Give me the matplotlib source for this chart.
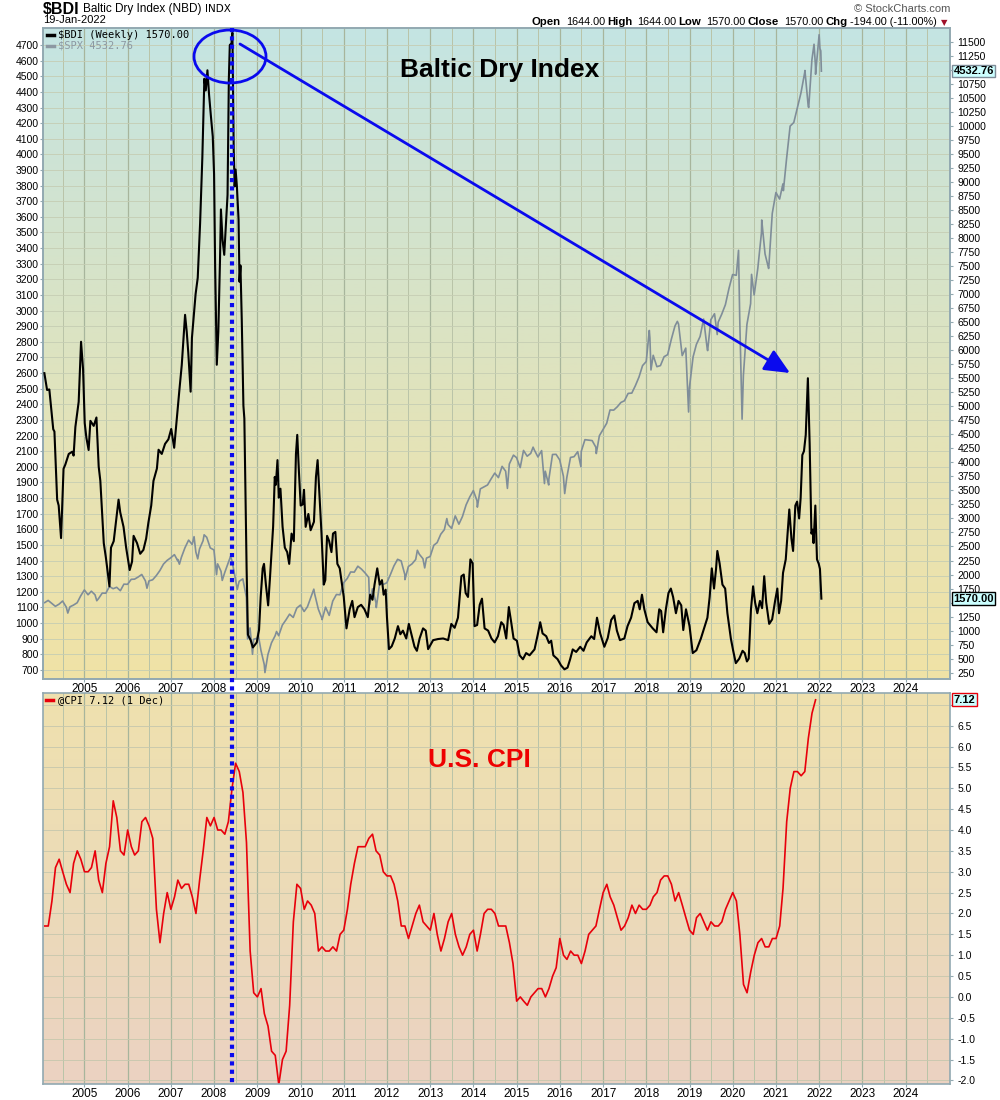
import numpy as np
import pandas as pd
import matplotlib
matplotlib.use('Agg')
import matplotlib.pyplot as plt
import matplotlib.dates as mdates
import matplotlib.ticker as mticker
from matplotlib.colors import LinearSegmentedColormap
from matplotlib.patches import Ellipse, FancyArrowPatch
from matplotlib.lines import Line2D

plt.rcParams['font.family'] = ['Liberation Sans', 'DejaVu Sans']

# ---- Baltic Dry Index, weekly ----
bdi_dates = [
    '2004-01-28', '2004-02-20', '2004-03-10', '2004-04-12', '2004-04-22', '2004-05-15', '2004-05-28',
    '2004-06-17', '2004-07-08', '2004-07-23', '2004-08-21', '2004-09-20', '2004-10-01', '2004-10-16',
    '2004-11-13', '2004-12-03', '2004-12-20', '2005-01-03', '2005-01-17', '2005-02-05', '2005-02-20',
    '2005-03-20', '2005-04-12', '2005-05-01', '2005-05-15', '2005-06-13', '2005-07-01', '2005-07-31',
    '2005-08-13', '2005-09-05', '2005-09-27', '2005-10-16', '2005-10-30', '2005-11-27', '2005-12-19',
    '2006-01-18', '2006-02-07', '2006-02-20', '2006-03-21', '2006-04-17', '2006-05-14', '2006-06-06',
    '2006-06-25', '2006-07-19', '2006-08-07', '2006-09-05', '2006-09-19', '2006-10-16', '2006-11-13',
    '2006-12-11', '2007-01-04', '2007-01-29', '2007-02-20', '2007-03-14', '2007-04-03', '2007-05-01',
    '2007-05-15', '2007-05-28', '2007-06-17', '2007-06-28', '2007-07-15', '2007-07-29', '2007-08-16',
    '2007-09-05', '2007-09-24', '2007-10-11', '2007-10-23', '2007-11-06', '2007-11-20', '2007-12-05',
    '2007-12-21', '2008-01-01', '2008-01-10', '2008-01-24', '2008-02-06', '2008-02-20', '2008-02-28',
    '2008-03-13', '2008-03-27', '2008-04-07', '2008-04-24', '2008-05-05', '2008-05-13', '2008-05-27',
    '2008-06-04', '2008-06-15', '2008-06-23', '2008-07-01', '2008-07-12', '2008-07-26', '2008-08-03',
    '2008-08-11', '2008-08-22', '2008-09-05', '2008-09-13', '2008-09-21', '2008-10-02', '2008-10-13',
    '2008-11-06', '2008-11-24', '2008-12-27', '2009-01-15', '2009-01-29', '2009-02-15', '2009-02-26',
    '2009-03-14', '2009-04-02', '2009-04-16', '2009-04-30', '2009-05-14', '2009-05-28', '2009-06-06',
    '2009-06-20', '2009-07-01', '2009-07-15', '2009-08-02', '2009-08-21', '2009-09-10', '2009-09-27',
    '2009-10-17', '2009-11-05', '2009-11-23', '2009-12-04', '2009-12-18', '2010-01-02', '2010-01-19',
    '2010-01-30', '2010-02-13', '2010-03-08', '2010-03-27', '2010-04-24', '2010-05-11', '2010-05-25',
    '2010-06-07', '2010-06-27', '2010-07-16', '2010-07-29', '2010-08-13', '2010-08-30', '2010-09-19',
    '2010-10-02', '2010-10-22', '2010-11-08', '2010-11-28', '2010-12-12', '2011-01-01', '2011-01-24',
    '2011-02-20', '2011-03-14', '2011-04-02', '2011-04-30', '2011-05-28', '2011-06-25', '2011-07-23',
    '2011-08-12', '2011-09-01', '2011-09-18', '2011-10-11', '2011-11-01', '2011-11-20', '2011-12-04',
    '2011-12-21', '2012-01-01', '2012-01-18', '2012-02-10', '2012-03-07', '2012-04-03', '2012-04-23',
    '2012-05-15', '2012-06-12', '2012-07-04', '2012-07-24', '2012-08-21', '2012-09-10', '2012-10-03',
    '2012-11-01', '2012-11-24', '2012-12-14', '2013-01-25', '2013-03-08', '2013-04-20', '2013-06-01',
    '2013-06-28', '2013-07-26', '2013-08-23', '2013-09-21', '2013-10-11', '2013-10-27', '2013-11-16',
    '2013-12-06', '2013-12-25', '2014-01-10', '2014-02-01', '2014-02-23', '2014-03-14', '2014-04-05',
    '2014-05-05', '2014-06-02', '2014-06-29', '2014-07-27', '2014-08-24', '2014-09-13', '2014-10-05',
    '2014-10-27', '2014-11-16', '2014-12-06', '2015-01-03', '2015-01-26', '2015-02-23', '2015-03-22',
    '2015-04-20', '2015-06-01', '2015-06-29', '2015-07-19', '2015-08-08', '2015-09-08', '2015-10-01',
    '2015-10-20', '2015-11-07', '2015-12-13', '2016-01-11', '2016-02-09', '2016-03-06', '2016-03-28',
    '2016-04-19', '2016-05-18', '2016-06-21', '2016-07-19', '2016-08-15', '2016-09-23', '2016-10-17',
    '2016-11-10', '2016-12-07', '2017-01-11', '2017-02-09', '2017-03-10', '2017-04-05', '2017-04-27',
    '2017-05-23', '2017-06-29', '2017-07-26', '2017-08-25', '2017-09-22', '2017-10-20', '2017-11-06',
    '2017-11-25', '2017-12-15', '2018-01-12', '2018-02-24', '2018-03-28', '2018-04-20', '2018-05-06',
    '2018-05-23', '2018-06-15', '2018-07-07', '2018-07-27', '2018-08-15', '2018-09-08', '2018-09-30',
    '2018-10-23', '2018-11-09', '2018-12-02', '2019-01-01', '2019-01-28', '2019-02-28', '2019-04-07',
    '2019-05-05', '2019-06-01', '2019-06-20', '2019-07-08', '2019-07-27', '2019-08-13', '2019-08-24',
    '2019-09-12', '2019-10-06', '2019-10-29', '2019-11-17', '2019-12-16', '2020-01-05', '2020-01-27',
    '2020-02-25', '2020-03-24', '2020-04-11', '2020-04-30', '2020-05-15', '2020-06-03', '2020-06-21',
    '2020-07-08', '2020-07-27', '2020-08-18', '2020-09-05', '2020-09-23', '2020-10-10', '2020-11-04',
    '2020-11-29', '2020-12-24', '2021-01-12', '2021-01-26', '2021-02-13', '2021-03-01', '2021-03-24',
    '2021-04-23', '2021-05-11', '2021-05-25', '2021-06-13', '2021-06-28', '2021-07-15', '2021-07-28',
    '2021-08-11', '2021-08-25', '2021-09-09', '2021-09-27', '2021-10-12', '2021-10-27', '2021-11-06',
    '2021-11-14', '2021-11-29', '2021-12-13', '2021-12-28', '2022-01-07', '2022-01-19',
]
bdi_vals = [
    5590, 5290, 5300, 4590, 4550, 3335, 3230,
    2650, 3885, 3960, 4150, 4190, 4120, 4630,
    5080, 6150, 5660, 4700, 4440, 4220, 4740,
    4650, 4800, 3925, 3670, 2560, 2300, 1790,
    2480, 2595, 3000, 3335, 3110, 2850, 2480,
    2080, 2230, 2690, 2560, 2370, 2440, 2640,
    2925, 3230, 3670, 3890, 4225, 4150, 4330,
    4410, 4595, 4260, 4780, 5290, 5735, 6630,
    6330, 5960, 5260, 6220, 6660, 7000, 7290,
    8260, 9440, 10840, 10630, 10990, 10550, 10180,
    9810, 9140, 7510, 5740, 6330, 7590, 8510,
    7960, 7700, 8110, 8770, 10840, 11440, 11470,
    11660, 9590, 8920, 9220, 8920, 8330, 7220,
    7510, 6550, 5010, 4780, 3600, 2110, 930,
    825, 700, 790, 1010, 1600, 2110, 2190,
    1820, 1450, 1890, 2370, 2850, 3740, 3600,
    4040, 3370, 3530, 2850, 2480, 2400, 2190,
    2730, 2595, 4150, 4490, 3840, 3230, 3250,
    3510, 2850, 3080, 2790, 2940, 3740, 4040,
    3530, 2730, 1820, 1900, 2690, 2600, 2400,
    2730, 2760, 2190, 2110, 1900, 1600, 1040,
    1380, 1530, 1240, 1420, 1460, 1380, 1240,
    1640, 1550, 1820, 2110, 1820, 1900, 1640,
    1730, 1240, 670, 720, 860, 1080, 935,
    1000, 860, 1120, 950, 712, 640, 860,
    1040, 1000, 670, 830, 850, 860, 830,
    1120, 1050, 1230, 1970, 2000, 1670, 1600,
    2270, 2200, 1080, 1100, 1460, 1570, 1040,
    1000, 860, 790, 900, 1150, 1100, 860,
    1420, 1150, 860, 820, 560, 490, 600,
    560, 665, 935, 1150, 950, 900, 780,
    820, 560, 490, 380, 310, 340, 490,
    665, 620, 712, 640, 790, 900, 850,
    1230, 950, 712, 870, 1190, 1270, 1000,
    830, 860, 1080, 1230, 1490, 1530, 1380,
    1640, 1380, 1150, 1040, 970, 1380, 1350,
    970, 1380, 1670, 1750, 1600, 1310, 1530,
    1450, 1010, 1380, 1080, 600, 650, 860,
    1050, 1230, 1600, 2110, 1750, 2100, 2420,
    2200, 1820, 1750, 1310, 860, 640, 420,
    500, 640, 600, 450, 500, 1380, 1790,
    1500, 1310, 1530, 1400, 1970, 1500, 1120,
    1200, 1530, 1750, 1310, 1530, 2030, 2270,
    3160, 2640, 2420, 3230, 3300, 3000, 3370,
    4130, 4200, 4490, 5500, 4330, 2730, 2800,
    2560, 3230, 2270, 2190, 2100, 1570,
]

# ---- S&P 500 (month ends plus a few weekly swings) ----
spx_month_ends = pd.date_range('2004-01-31', '2021-12-31', freq='ME')
spx_monthly = [
    1131, 1145, 1126, 1107, 1121, 1141, 1102, 1104, 1115, 1130, 1174, 1212,
    1181, 1204, 1181, 1157, 1192, 1191, 1234, 1220, 1229, 1207, 1249, 1248,
    1280, 1281, 1295, 1311, 1270, 1270, 1277, 1304, 1336, 1378, 1401, 1418,
    1438, 1407, 1421, 1482, 1531, 1503, 1455, 1474, 1527, 1549, 1481, 1468,
    1379, 1331, 1323, 1386, 1400, 1280, 1267, 1283, 1165, 969, 896, 903,
    826, 735, 798, 873, 919, 919, 987, 1021, 1057, 1036, 1096, 1115,
    1074, 1104, 1169, 1187, 1089, 1031, 1102, 1049, 1141, 1183, 1181, 1258,
    1286, 1327, 1326, 1364, 1345, 1321, 1292, 1219, 1131, 1253, 1247, 1258,
    1312, 1366, 1408, 1398, 1310, 1362, 1379, 1407, 1441, 1412, 1416, 1426,
    1498, 1515, 1569, 1598, 1631, 1606, 1686, 1633, 1682, 1757, 1806, 1848,
    1783, 1859, 1872, 1884, 1924, 1960, 1931, 2003, 1972, 2018, 2068, 2059,
    1995, 2105, 2068, 2086, 2107, 2063, 2104, 1972, 1920, 2079, 2080, 2044,
    1940, 1932, 2060, 2065, 2097, 2099, 2174, 2171, 2168, 2126, 2199, 2239,
    2279, 2364, 2363, 2384, 2412, 2423, 2470, 2472, 2519, 2575, 2648, 2674,
    2824, 2714, 2641, 2648, 2705, 2718, 2816, 2902, 2914, 2712, 2760, 2507,
    2704, 2784, 2834, 2946, 2752, 2942, 2980, 2926, 2977, 3038, 3141, 3231,
    3226, 2954, 2585, 2912, 3044, 3100, 3271, 3500, 3363, 3270, 3622, 3756,
    3714, 3811, 3973, 4181, 4204, 4298, 4395, 4523, 4308, 4605, 4567, 4766,
]
spx_swing_dates = [
    '2004-08-13', '2005-04-15', '2006-06-13', '2007-02-27', '2007-03-14', '2007-07-16', '2007-08-16',
    '2007-10-09', '2008-01-22', '2008-03-10', '2008-05-19', '2008-07-15', '2008-10-10', '2008-11-21',
    '2009-01-06', '2009-03-06', '2009-06-12', '2010-04-23', '2010-07-02', '2011-04-29', '2011-08-08',
    '2011-10-03', '2012-06-01', '2012-09-14', '2012-11-15', '2013-05-21', '2013-08-30', '2014-02-03',
    '2014-10-15', '2014-12-05', '2015-05-20', '2015-08-24', '2015-09-29', '2016-02-11', '2016-06-27',
    '2016-11-04', '2018-01-26', '2018-02-09', '2018-09-20', '2018-12-24', '2019-06-03', '2019-08-23',
    '2020-02-19', '2020-03-20', '2020-06-08', '2020-09-02', '2020-10-30', '2021-03-04', '2021-09-02',
    '2021-10-04', '2021-11-18', '2021-12-01', '2022-01-07', '2022-01-14', '2022-01-19',
]
spx_swing_vals = [
    1064, 1143, 1223, 1400, 1377, 1553, 1411,
    1565, 1310, 1273, 1426, 1215, 899, 800,
    935, 683, 946, 1217, 1022, 1364, 1119,
    1099, 1278, 1466, 1353, 1669, 1633, 1742,
    1862, 2075, 2126, 1893, 1884, 1829, 2001,
    2085, 2873, 2620, 2931, 2351, 2744, 2847,
    3386, 2305, 3232, 3580, 3270, 3768, 4537,
    4300, 4705, 4513, 4677, 4663, 4532.76,
]

# ---- US CPI, year over year %, monthly from Feb 2004 ----
cpi_start = '2004-02-01'
cpi_vals = [
    1.7, 1.7, 2.3, 3.1, 3.3, 3.0, 2.7, 2.5, 3.2, 3.5, 3.3,
    3.0, 3.0, 3.1, 3.5, 2.8, 2.5, 3.2, 3.6, 4.7, 4.3, 3.5, 3.4,
    4.0, 3.6, 3.4, 3.5, 4.2, 4.3, 4.1, 3.8, 2.1, 1.3, 2.0, 2.5,
    2.1, 2.4, 2.8, 2.6, 2.7, 2.7, 2.4, 2.0, 2.8, 3.5, 4.3, 4.1,
    4.3, 4.0, 4.0, 3.9, 4.2, 5.0, 5.6, 5.4, 4.9, 3.7, 1.1, 0.1,
    0.0, 0.2, -0.4, -0.7, -1.3, -1.4, -2.1, -1.5, -1.3, -0.2, 1.8, 2.7,
    2.6, 2.1, 2.3, 2.2, 2.0, 1.1, 1.2, 1.1, 1.1, 1.2, 1.1, 1.5,
    1.6, 2.1, 2.7, 3.2, 3.6, 3.6, 3.6, 3.8, 3.9, 3.5, 3.4, 3.0,
    2.9, 2.9, 2.7, 2.3, 1.7, 1.7, 1.4, 1.7, 2.0, 2.2, 1.8, 1.7,
    1.6, 2.0, 1.5, 1.1, 1.4, 1.8, 2.0, 1.5, 1.2, 1.0, 1.2, 1.5,
    1.6, 1.1, 1.5, 2.0, 2.1, 2.1, 2.0, 1.7, 1.7, 1.7, 1.3, 0.8,
    -0.1, 0.0, -0.1, -0.2, 0.0, 0.1, 0.2, 0.2, 0.0, 0.2, 0.5, 0.7,
    1.4, 1.0, 0.9, 1.1, 1.0, 1.0, 0.8, 1.1, 1.5, 1.6, 1.7, 2.1,
    2.5, 2.7, 2.4, 2.2, 1.9, 1.6, 1.7, 1.9, 2.2, 2.0, 2.2, 2.1,
    2.1, 2.2, 2.4, 2.5, 2.8, 2.9, 2.9, 2.7, 2.3, 2.5, 2.2, 1.9,
    1.6, 1.5, 1.9, 2.0, 1.8, 1.6, 1.8, 1.7, 1.7, 1.8, 2.1, 2.3,
    2.5, 2.3, 1.5, 0.3, 0.1, 0.6, 1.0, 1.3, 1.4, 1.2, 1.2, 1.4,
    1.4, 1.7, 2.6, 4.2, 5.0, 5.4, 5.4, 5.3, 5.4, 6.2, 6.8, 7.12,
]

years = list(range(2005, 2025))
spx_ticks = list(range(700, 4701, 100))
bdi_ticks = list(range(250, 11501, 250))
cpi_ticks = [x / 2 for x in range(-4, 15)]

bdi = pd.Series(bdi_vals, index=pd.to_datetime(bdi_dates))
spx = pd.concat([pd.Series(spx_monthly, index=spx_month_ends),
                 pd.Series(spx_swing_vals, index=pd.to_datetime(spx_swing_dates))]).sort_index()
cpi = pd.Series(cpi_vals, index=pd.date_range(cpi_start, periods=len(cpi_vals), freq='MS'))

xmin, xmax = pd.Timestamp('2004-01-19'), pd.Timestamp('2025-01-10')
border = '#92a9b1'
year_pos = mdates.date2num([pd.Timestamp(f'{y}-01-01') for y in years])
half_pos = mdates.date2num([pd.Timestamp(f'{y}-07-01') for y in range(2004, 2025)])

fig = plt.figure(figsize=(10, 11), dpi=100)
ax = fig.add_axes([0.0433, 0.38245, 0.9067, 0.5921])
ax2 = ax.twinx()
axc = fig.add_axes([0.0433, 0.01455, 0.9067, 0.35518])


def paint(a, colors):
    cmap = LinearSegmentedColormap.from_list('bg', colors)
    grad = np.linspace(0, 1, 256).reshape(-1, 1)
    a.imshow(grad, cmap=cmap, aspect='auto', extent=[0, 1, 0, 1],
             transform=a.transAxes, origin='lower', zorder=0, interpolation='bilinear')


def style_x(a):
    a.set_xlim(xmin, xmax)
    a.xaxis.set_major_locator(mticker.FixedLocator(year_pos))
    a.xaxis.set_minor_locator(mticker.FixedLocator(half_pos))
    a.xaxis.set_major_formatter(mticker.FixedFormatter([str(y) for y in years]))
    a.tick_params(axis='x', which='major', length=2, pad=1, labelsize=8.5, color=border)
    a.tick_params(axis='x', which='minor', length=0)
    a.grid(which='major', axis='x', color='#a7b59c', lw=0.9)
    a.grid(which='minor', axis='x', color='#b9c4a8', lw=0.7)
    for s in a.spines.values():
        s.set_color(border)
        s.set_linewidth(1.2)


def tag(a, value, text, ec):
    a.text(1.004, value, text, transform=a.get_yaxis_transform(),
           fontsize=8, fontweight='bold', va='center', ha='left', clip_on=False, zorder=20,
           bbox=dict(boxstyle='square,pad=0.12', fc='#ccffff', ec=ec, lw=1))


# ---- top panel ----
paint(ax, ['#f0e2a6', '#e6e3b6', '#d4e3cc', '#c4e5e3'])
ax.plot(spx.index, spx.values, color='#7f8d99', lw=1.2, zorder=2)
ax.set_ylim(640, 4809)
ax.set_yticks(spx_ticks)
ax.tick_params(axis='y', length=2.5, pad=1, labelsize=7.5, color=border)
ax.grid(axis='y', color='#c5cdb3', lw=0.6)
style_x(ax)

ax2.plot(bdi.index, bdi.values, color='black', lw=1.5, zorder=3)
ax2.set_ylim(132, 11744)
ax2.set_yticks(bdi_ticks)
# labels hidden behind the value tags, as in the original
ax2.yaxis.set_major_formatter(mticker.FixedFormatter(
    ['' if t in (11000, 1500) else str(t) for t in bdi_ticks]))
ax2.tick_params(axis='y', length=2.5, pad=3, labelsize=7.5, color=border)
for s in ax2.spines.values():
    s.set_color(border)
    s.set_linewidth(1.2)
ax2.set_xlim(xmin, xmax)

tag(ax2, bdi_vals[-1], f'{bdi_vals[-1]:.2f}', 'black')
tag(ax, spx_swing_vals[-1], f'{spx_swing_vals[-1]:.2f}', '#7f8d99')

# ---- bottom panel ----
paint(axc, ['#ebd2c2', '#ecdbb8', '#efe1ae'])
axc.plot(cpi.index, cpi.values, color='#e8000b', lw=1.2, zorder=2)
axc.set_ylim(-2.086, 7.276)
axc.yaxis.tick_right()
axc.set_yticks(cpi_ticks)
axc.yaxis.set_major_formatter(mticker.FixedFormatter(
    ['' if t == 7.0 else f'{t:.1f}' for t in cpi_ticks]))
axc.tick_params(axis='y', length=2.5, pad=3, labelsize=7.5, color=border)
axc.grid(axis='y', color='#c5c7ad', lw=0.6)
style_x(axc)
tag(axc, cpi_vals[-1], f'{cpi_vals[-1]:.2f}', '#e8000b')


# ---- header ----
def fy(px):
    return 1 - px / 1100


renderer = fig.canvas.get_renderer()


def run_left(x_px, y_px, parts):
    for s, kw, gap in parts:
        t = fig.text(x_px / 1000, fy(y_px), s, va='center', ha='left', **kw)
        x_px = t.get_window_extent(renderer=renderer).x1 + gap


def run_right(x_px, y_px, parts):
    for s, kw, gap in reversed(parts):
        t = fig.text(x_px / 1000, fy(y_px), s, va='center', ha='right', **kw)
        x_px = t.get_window_extent(renderer=renderer).x0 - gap


run_left(43, 9, [('$BDI', dict(fontsize=11.5, fontweight='bold'), 3),
                 ('Baltic Dry Index (NBD)', dict(fontsize=8.5), 4),
                 ('INDX', dict(fontsize=7.5, family='DejaVu Sans'), 0)])
fig.text(0.043, fy(20), '19-Jan-2022', fontsize=8, va='center')
fig.text(0.950, fy(9), '\u00a9 StockCharts.com', fontsize=8, va='center', ha='right', color='#555555')
b = dict(fontsize=8.2, fontweight='bold')
n = dict(fontsize=7.8)
run_right(937, 22, [('Open', b, 2), ('1644.00', n, 5), ('High', b, 2), ('1644.00', n, 5),
                    ('Low', b, 2), ('1570.00', n, 5), ('Close', b, 2), ('1570.00', n, 5),
                    ('Chg', b, 2), ('-194.00 (-11.00%)', n, 3)])
fig.text(0.9405, fy(22.5), '\u25bc', fontsize=6, va='center', color='#a0102a', family='DejaVu Sans')

# legends inside panels
mono = 'DejaVu Sans Mono'
fig.add_artist(Line2D([0.047, 0.054], [fy(35), fy(35)], color='black', lw=2.5))
fig.text(0.058, fy(35), '$BDI (Weekly) 1570.00', fontsize=7.5, family=mono, va='center')
fig.add_artist(Line2D([0.047, 0.054], [fy(45.5), fy(45.5)], color='#8c98a2', lw=2.5))
fig.text(0.058, fy(45.5), '$SPX 4532.76', fontsize=7.5, family=mono, va='center', color='#8c98a2')
fig.add_artist(Line2D([0.046, 0.053], [fy(700), fy(700)], color='#e8000b', lw=2.5))
fig.text(0.058, fy(700), '@CPI 7.12 (1 Dec)', fontsize=7.5, family=mono, va='center')

# titles on the panels
fig.text(0.500, fy(69.6), 'Baltic Dry Index', fontsize=19, fontweight='bold', ha='center', va='center')
fig.text(0.479, fy(760), 'U.S. CPI', fontsize=19, fontweight='bold', ha='center', va='center',
         color='#ee0000', family=['Liberation Sans Narrow', 'Liberation Sans'])

# annotations: circle around the 2008 peak, arrow to the 2021 peak, dotted marker
fig.add_artist(Ellipse((0.230, fy(56.5)), 0.072, 53 / 1100, transform=fig.transFigure,
                       fill=False, ec='#0a0aee', lw=2, zorder=10))
fig.add_artist(FancyArrowPatch((0.240, fy(44)), (0.790, fy(373)), transform=fig.transFigure,
                               arrowstyle='-|>,head_length=1.1,head_width=0.5', mutation_scale=14,
                               color='#0a0aee', lw=2, zorder=10, shrinkA=0, shrinkB=0))
fig.add_artist(Line2D([0.2323, 0.2323], [fy(28), fy(1083)], color='#0a0aee', lw=3,
                      ls=(0, (1, 1)), zorder=11))

fig.savefig('out.png', dpi=100)
